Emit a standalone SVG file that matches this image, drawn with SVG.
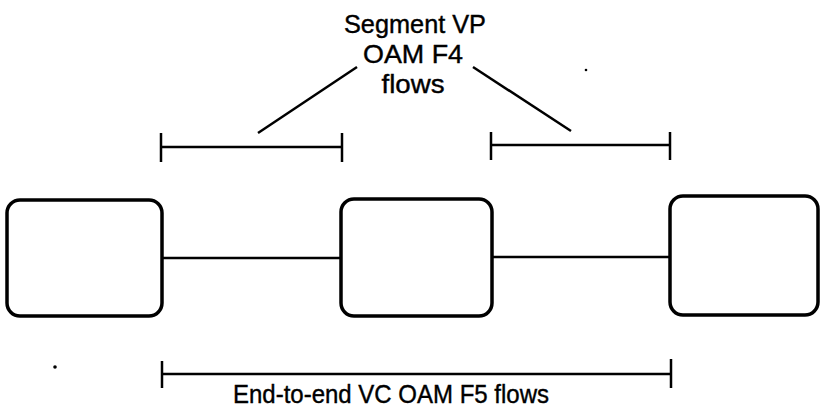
<svg xmlns="http://www.w3.org/2000/svg" width="820" height="411" viewBox="0 0 820 411">
<style>
.box{fill:#fff;stroke:#000;stroke-width:3.5}
.ln{stroke:#000;stroke-width:2.5;fill:none}
.tk{stroke:#000;stroke-width:2.5;fill:none}
.lbl{font-family:"Liberation Sans",Arial,sans-serif;font-size:26px;fill:#000;stroke:#000;stroke-width:0.4;text-anchor:middle}
</style>
<rect width="820" height="411" fill="#fff"/>
<g id="connectors">
<line class="ln" x1="162" y1="258" x2="341" y2="258"/>
<line class="ln" x1="493" y1="257" x2="670" y2="257"/>
<line class="ln" x1="357" y1="67" x2="258" y2="133"/>
<line class="ln" x1="473" y1="67" x2="571" y2="131"/>
</g>
<g id="node-left"><rect class="box" x="7" y="200" width="155" height="116" rx="13"/></g>
<g id="node-middle"><rect class="box" x="341" y="199" width="151" height="117" rx="13"/></g>
<g id="node-right"><rect class="box" x="670" y="196" width="148" height="119" rx="13"/></g>
<g id="segment-left">
<line class="ln" x1="161" y1="147" x2="342" y2="147"/>
<line class="tk" x1="161" y1="133" x2="161" y2="162"/>
<line class="tk" x1="342" y1="133" x2="342" y2="162"/>
</g>
<g id="segment-right">
<line class="ln" x1="491" y1="145" x2="670" y2="145"/>
<line class="tk" x1="491" y1="132" x2="491" y2="160"/>
<line class="tk" x1="670" y1="132" x2="670" y2="160"/>
</g>
<g id="end-to-end">
<line class="ln" x1="162" y1="374" x2="671" y2="374"/>
<line class="tk" x1="162" y1="361" x2="162" y2="388"/>
<line class="tk" x1="671" y1="359" x2="671" y2="388"/>
</g>
<g id="label-top">
<text class="lbl" x="415" y="33" textLength="142" lengthAdjust="spacingAndGlyphs">Segment VP</text>
<text class="lbl" x="413" y="63" textLength="100" lengthAdjust="spacingAndGlyphs">OAM F4</text>
<text class="lbl" x="413" y="93" textLength="63" lengthAdjust="spacingAndGlyphs">flows</text>
</g>
<g id="label-bottom">
<text class="lbl" x="391" y="403" textLength="316" lengthAdjust="spacingAndGlyphs">End-to-end VC OAM F5 flows</text>
</g>
<circle cx="55" cy="367" r="1.8" fill="#000"/>
<circle cx="586" cy="70" r="1.3" fill="#000"/>
</svg>
